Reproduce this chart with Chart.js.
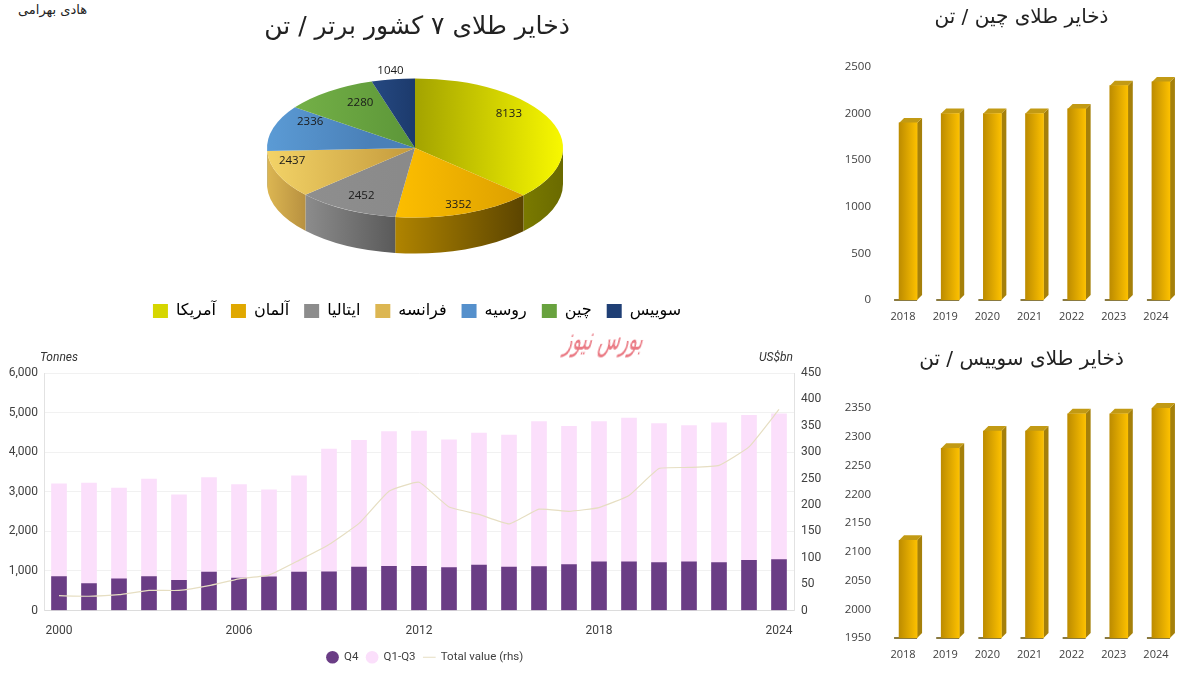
<!DOCTYPE html>
<html>
<head>
<meta charset="utf-8">
<title>ذخایر طلا</title>
<script src="https://cdn.jsdelivr.net/npm/chart.js@4"></script>
<style>
    html, body { margin: 0; padding: 0; width: 1203px; height: 673px; overflow: hidden; background: #fff; }
    canvas { position: absolute; }
    .note { position: absolute; white-space: nowrap; color: #333; }
    #author { left: 18px; top: 2px; font: 13px "DejaVu Sans"; color: #222; }
    #mark { left: 566px; top: 327px; font: 18px "DejaVu Sans"; color: #ea7a84; transform: scaleY(1.8) skewX(-24deg); }
    .axisNote { font: italic 12px Roboto; top: 350px; }
</style>
</head>
<body>
<canvas id="pieChart" dir="rtl" style="left:117px;top:0;width:600px;height:335px"></canvas>
<canvas id="chinaChart" dir="rtl" style="left:840px;top:0;width:363px;height:335px"></canvas>
<canvas id="swissChart" dir="rtl" style="left:840px;top:340px;width:363px;height:333px"></canvas>
<canvas id="demandChart" style="left:0;top:340px;width:850px;height:333px"></canvas>
<div id="author" class="note" dir="rtl">هادی بهرامی</div>
<div id="mark" class="note" dir="rtl">بورس نیوز</div>
<div class="note axisNote" style="left:40px">Tonnes</div>
<div class="note axisNote" style="left:759px">US$bn</div>
<script>
// Pie data
const pieCountries = ['آمریکا', 'آلمان', 'ایتالیا', 'فرانسه', 'روسیه', 'چین', 'سوییس'];
const pieValues = [8133, 3352, 2452, 2437, 2336, 2280, 1040];

// Gold reserve bars
const reserveYears = ['2018', '2019', '2020', '2021', '2022', '2023', '2024'];
const chinaTonnes = [1900, 2000, 2000, 2000, 2050, 2300, 2340];
const swissTonnes = [2120, 2280, 2310, 2310, 2340, 2340, 2350];

// Bottom left chart
const demandYears = ['2000', '2001', '2002', '2003', '2004', '2005', '2006', '2007', '2008', '2009', '2010', '2011', '2012',
    '2013', '2014', '2015', '2016', '2017', '2018', '2019', '2020', '2021', '2022', '2023', '2024'];
const q4Tonnes = [860, 680, 800, 860, 760, 970, 820, 850, 970, 975, 1100, 1115, 1115, 1085, 1150, 1100, 1110, 1160, 1230, 1230, 1210, 1230, 1210, 1270, 1285];
const q1q3Tonnes = [2340, 2540, 2290, 2460, 2160, 2390, 2360, 2200, 2430, 3105, 3200, 3405, 3415, 3225, 3330, 3330, 3660, 3490, 3540, 3630, 3510, 3440, 3530, 3660, 3685];
const totalValue = [28, 27, 30, 38, 38, 47, 60, 67, 95, 125, 165, 226, 243, 196, 182, 164, 192, 188, 195, 218, 269, 271, 275, 310, 381];

// Pie look: [start colour, end colour] of each top face and wall, left to right
const faceColors = [['#a3a300', '#f8f800'], ['#ffc000', '#d89c00'], ['#8f8f8f', '#8a8a8a'], ['#f3d367', '#c49a3c'],
    ['#5b9bd5', '#4a80b8'], ['#72ae46', '#5c9638'], ['#24477f', '#1c3a6c']];
const wallColors = [['#7a7a00', '#6a6a00'], ['#b08400', '#5c4500'], ['#8c8c8c', '#5a5a5a'], ['#dcb652', '#b89140'],
    ['#3d6c9f', '#3d6c9f'], ['#4f7f30', '#4f7f30'], ['#162c55', '#162c55']];
const legendColors = ['#d6d600', '#e0a800', '#8c8c8c', '#dcb652', '#5590cc', '#68a23e', '#1f3f75'];
const labelReach = [0.8, 0.87, 0.78, 0.85, 0.8, 0.75, 1.12];
const labelTurn = [-14, 0, 0, 10, 11, 6, 0];

// Pie centre inside its canvas
const PIE_X = 298, PIE_Y = 148, PIE_R = 148, PIE_SQUASH = 0.47, PIE_DEPTH = 36;
const TEXT = '#404040';

Chart.defaults.animation = false;
Chart.defaults.responsive = false;

function sizeCanvas(id) {
    const c = document.getElementById(id);
    c.width = parseInt(c.style.width);
    c.height = parseInt(c.style.height);
    return c;
}

function sideGradient(ctx, x0, x1, pair) {
    const g = ctx.createLinearGradient(x0, 0, x1, 0);
    g.addColorStop(0, pair[0]);
    g.addColorStop(1, pair[1]);
    return g;
}

// Empty axis that only holds space on the right, so title and legend stay centred on the canvas
function spacerAxis(width) {
    return {
        position: 'right',
        type: 'linear',
        grid: { display: false, drawTicks: false },
        border: { display: false },
        ticks: { display: false },
        afterFit(scale) { scale.width = width; }
    };
}

// Squash the pie into an ellipse and give it a wall
const pie3d = {
    id: 'pie3d',
    beforeDatasetsDraw(chart) {
        const ctx = chart.ctx;
        const arcs = chart.getDatasetMeta(0).data;
        const cx = arcs[0].x, cy = arcs[0].y;
        ctx.save();
        ctx.translate(PIE_X, PIE_Y);
        ctx.scale(1, PIE_SQUASH);
        ctx.translate(-cx, -cy);
        // walls, only the front half of the rim shows
        arcs.forEach((arc, i) => {
            const a0 = Math.max(arc.startAngle, 0);
            const a1 = Math.min(arc.endAngle, Math.PI);
            if (a1 <= a0) return;
            const d = PIE_DEPTH / PIE_SQUASH;
            ctx.beginPath();
            ctx.arc(cx, cy, arc.outerRadius, a0, a1);
            ctx.arc(cx, cy + d, arc.outerRadius, a1, a0, true);
            ctx.closePath();
            ctx.fillStyle = sideGradient(ctx, cx + Math.cos(a1) * arc.outerRadius, cx + Math.cos(a0) * arc.outerRadius, wallColors[i]);
            ctx.fill();
        });
    },
    afterDatasetsDraw(chart) {
        const ctx = chart.ctx;
        ctx.restore();
        const arcs = chart.getDatasetMeta(0).data;
        ctx.save();
        ctx.font = '11.5px "Open Sans"';
        ctx.fillStyle = '#1a1a1a';
        ctx.textAlign = 'center';
        ctx.textBaseline = 'middle';
        ctx.direction = 'ltr';
        arcs.forEach((arc, i) => {
            const mid = (arc.startAngle + arc.endAngle) / 2 + labelTurn[i] * Math.PI / 180;
            const r = arc.outerRadius * labelReach[i];
            ctx.fillText(pieValues[i], PIE_X + Math.cos(mid) * r, PIE_Y + Math.sin(mid) * r * PIE_SQUASH);
        });
        ctx.restore();
    }
};

new Chart(sizeCanvas('pieChart'), {
    type: 'pie',
    data: {
        labels: pieCountries,
        datasets: [{
            data: pieValues,
            radius: PIE_R,
            clip: false,
            borderWidth: 0,
            backgroundColor(c) {
                if (c.dataIndex === undefined) return legendColors[0];
                const area = c.chart.chartArea;
                const mx = (area.left + area.right) / 2;
                const tilt = [[0, 1], [-0.2, 0.85], [-0.85, -0.1], [-1, 0], [-1, -0.3], [-0.75, 0], [-0.25, 0]][c.dataIndex];
                return sideGradient(c.chart.ctx, mx + tilt[0] * PIE_R, mx + tilt[1] * PIE_R, faceColors[c.dataIndex]);
            }
        }]
    },
    options: {
        layout: { padding: { bottom: 6 } },
        plugins: {
            title: {
                display: true,
                text: 'ذخایر طلای ۷ کشور برتر / تن',
                color: '#222',
                font: { family: '"DejaVu Sans"', size: 25, weight: 'normal' },
                padding: { top: 12, bottom: 10 }
            },
            legend: {
                position: 'bottom',
                labels: {
                    color: '#222',
                    font: { family: '"DejaVu Sans"', size: 16 },
                    boxWidth: 15,
                    boxHeight: 14,
                    padding: 15,
                    generateLabels(chart) {
                        return pieCountries.map((name, i) => ({ text: name, fillStyle: legendColors[i], strokeStyle: legendColors[i], lineWidth: 0, index: i }));
                    }
                }
            },
            tooltip: { enabled: false }
        }
    },
    plugins: [pie3d]
});

// Side and top of each bar, plus the small floor line under it
const bar3d = {
    id: 'bar3d',
    beforeDatasetsDraw(chart) {
        const ctx = chart.ctx;
        const d = 5;
        chart.getDatasetMeta(0).data.forEach(bar => {
            const right = bar.x + bar.width / 2, left = bar.x - bar.width / 2;
            ctx.fillStyle = '#a5800a';
            ctx.beginPath();
            ctx.moveTo(right, bar.y);
            ctx.lineTo(right + d, bar.y - d);
            ctx.lineTo(right + d, bar.base - d);
            ctx.lineTo(right, bar.base);
            ctx.fill();
            ctx.fillStyle = '#c29a14';
            ctx.beginPath();
            ctx.moveTo(left, bar.y);
            ctx.lineTo(left + d, bar.y - d);
            ctx.lineTo(right + d, bar.y - d);
            ctx.lineTo(right, bar.y);
            ctx.fill();
            ctx.fillStyle = '#8a7a40';
            ctx.fillRect(left - 5, bar.base - 1, bar.width + 5, 2);
        });
    }
};

function goldBars(id, title, values, yMin, yMax, step, pad) {
    new Chart(sizeCanvas(id), {
        type: 'bar',
        data: {
            labels: reserveYears,
            datasets: [{
                data: values,
                base: yMin,
                barThickness: 18,
                backgroundColor(c) {
                    const x = c.dataIndex === undefined ? NaN : c.chart.scales.x.getPixelForValue(c.dataIndex);
                    if (!Number.isFinite(x)) return '#e0a800';
                    return sideGradient(c.chart.ctx, x - 9, x + 9, ['#bd8c00', '#fcc000']);
                }
            }]
        },
        options: {
            plugins: {
                legend: { display: false },
                tooltip: { enabled: false },
                title: {
                    display: true,
                    text: title,
                    color: '#222',
                    font: { family: '"DejaVu Sans"', size: 20, weight: 'normal' },
                    padding: pad
                }
            },
            scales: {
                x: {
                    grid: { display: false, drawTicks: false },
                    border: { display: false },
                    afterFit(scale) { scale.height = 35; },
                    ticks: { color: TEXT, font: { family: '"Open Sans"', size: 11 }, padding: 10, labelOffset: -5, maxRotation: 0 }
                },
                y: {
                    min: yMin,
                    max: yMax,
                    grid: { display: false, drawTicks: false },
                    border: { display: false },
                    afterFit(scale) { scale.width = 47; },
                    ticks: { stepSize: step, color: TEXT, font: { family: '"Open Sans"', size: 11.5 }, padding: 16, callback: v => String(v) }
                },
                pad: spacerAxis(21)
            }
        },
        plugins: [bar3d]
    });
}

goldBars('chinaChart', 'ذخایر طلای چین / تن', chinaTonnes, 0, 2500, 500, { top: 6, bottom: 37 });
goldBars('swissChart', 'ذخایر طلای سوییس / تن', swissTonnes, 1950, 2350, 50, { top: 8, bottom: 36 });

new Chart(sizeCanvas('demandChart'), {
    type: 'bar',
    data: {
        labels: demandYears,
        datasets: [
            { type: 'bar', label: 'Q4', data: q4Tonnes, backgroundColor: '#6a3d85', yAxisID: 'y', stack: 's', order: 2, barThickness: 15, pointStyle: 'circle' },
            { type: 'bar', label: 'Q1-Q3', data: q1q3Tonnes, backgroundColor: '#fbdffb', yAxisID: 'y', stack: 's', order: 2, barThickness: 15, pointStyle: 'circle' },
            { type: 'line', label: 'Total value (rhs)', data: totalValue, borderColor: '#e6dec2', backgroundColor: '#e6dec2', borderWidth: 1.2, pointRadius: 0, tension: 0.12, yAxisID: 'y1', order: 1, pointStyle: 'line' }
        ]
    },
    options: {
        layout: { padding: { top: 33 } },
        plugins: {
            tooltip: { enabled: false },
            legend: {
                position: 'bottom',
                labels: {
                    color: TEXT,
                    font: { family: 'Roboto', size: 11.5 },
                    usePointStyle: true,
                    boxHeight: 9,
                    padding: 8,
                    sort: (a, b) => a.datasetIndex - b.datasetIndex
                }
            }
        },
        scales: {
            x: {
                stacked: true,
                grid: { display: false, drawTicks: false },
                border: { color: '#dcdcdc' },
                afterFit(scale) { scale.height = 33; },
                ticks: {
                    color: TEXT,
                    font: { family: 'Roboto', size: 12 },
                    autoSkip: false,
                    maxRotation: 0,
                    padding: 13,
                    callback(v, i) { return i % 6 === 0 ? this.getLabelForValue(v) : ''; }
                }
            },
            y: {
                stacked: true,
                min: 0,
                max: 6000,
                grid: { color: '#f1f1f1', drawTicks: false },
                border: { color: '#e2e2e2' },
                afterFit(scale) { scale.width = 44; },
                ticks: { stepSize: 1000, color: TEXT, font: { family: 'Roboto', size: 12 }, padding: 6, callback: v => v.toLocaleString('en-US') }
            },
            y1: {
                position: 'right',
                min: 0,
                max: 450,
                grid: { display: false, drawTicks: false },
                border: { color: '#e2e2e2' },
                afterFit(scale) { scale.width = 36; },
                ticks: { stepSize: 50, color: TEXT, font: { family: 'Roboto', size: 12 }, padding: 7 }
            },
            pad: spacerAxis(20)
        }
    }
});
</script>
</body>
</html>
